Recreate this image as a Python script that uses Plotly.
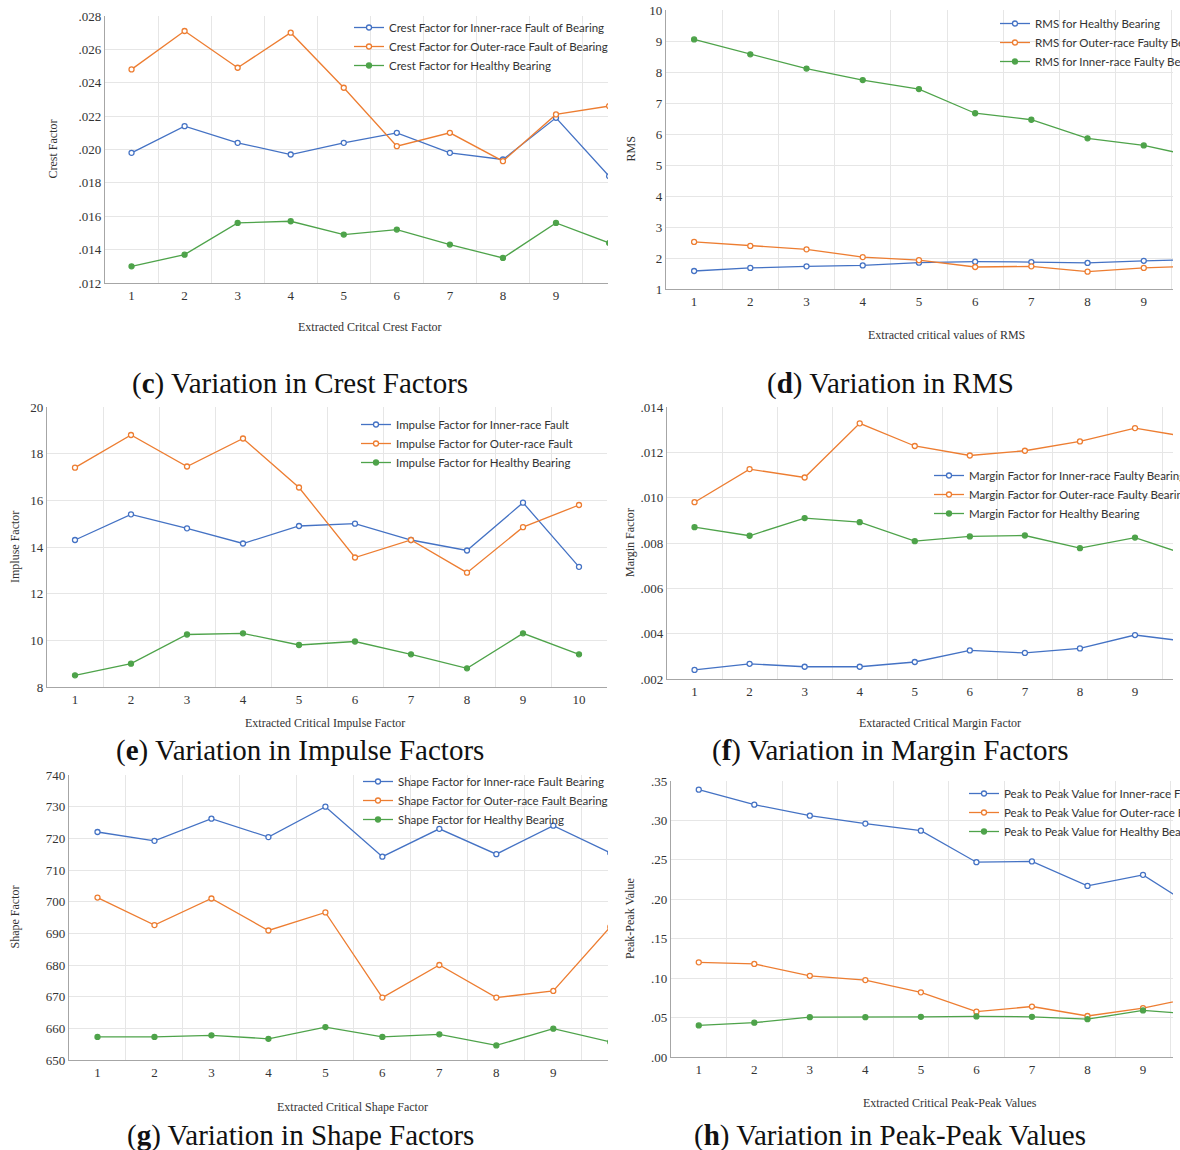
import plotly.graph_objects as go

# ---------------- data ----------------
x_idx = [1, 2, 3, 4, 5, 6, 7, 8, 9, 10]

crest_inner = [0.0198, 0.0214, 0.0204, 0.0197, 0.0204, 0.0210, 0.0198, 0.0194, 0.0219, 0.0184]
crest_outer = [0.0248, 0.0271, 0.0249, 0.0270, 0.0237, 0.0202, 0.0210, 0.0193, 0.0221, 0.0226]
crest_healthy = [0.0130, 0.0137, 0.0156, 0.0157, 0.0149, 0.0152, 0.0143, 0.0135, 0.0156, 0.0144]
crest_tickvals = [0.012, 0.014, 0.016, 0.018, 0.020, 0.022, 0.024, 0.026, 0.028]
crest_ticktext = [".012", ".014", ".016", ".018", ".020", ".022", ".024", ".026", ".028"]

rms_healthy = [1.58, 1.68, 1.73, 1.76, 1.85, 1.88, 1.87, 1.84, 1.91, 1.95]
rms_outer = [2.52, 2.39, 2.28, 2.03, 1.93, 1.71, 1.73, 1.56, 1.68, 1.75]
rms_inner = [9.05, 8.57, 8.11, 7.74, 7.45, 6.67, 6.46, 5.86, 5.63, 5.24]
rms_tickvals = [1, 2, 3, 4, 5, 6, 7, 8, 9, 10]
rms_ticktext = ["1", "2", "3", "4", "5", "6", "7", "8", "9", "10"]

impulse_inner = [14.3, 15.4, 14.8, 14.15, 14.9, 15.0, 14.3, 13.85, 15.9, 13.15]
impulse_outer = [17.4, 18.8, 17.45, 18.65, 16.55, 13.55, 14.3, 12.9, 14.85, 15.8]
impulse_healthy = [8.5, 9.0, 10.25, 10.3, 9.8, 9.95, 9.4, 8.8, 10.3, 9.4]
impulse_tickvals = [8, 10, 12, 14, 16, 18, 20]
impulse_ticktext = ["8", "10", "12", "14", "16", "18", "20"]

margin_inner = [0.00240, 0.00267, 0.00254, 0.00254, 0.00275, 0.00326, 0.00315, 0.00335, 0.00394, 0.00364]
margin_outer = [0.00980, 0.01126, 0.01089, 0.01328, 0.01228, 0.01186, 0.01207, 0.01248, 0.01307, 0.01266]
margin_healthy = [0.00870, 0.00832, 0.00910, 0.00892, 0.00808, 0.00829, 0.00833, 0.00777, 0.00824, 0.00743]
margin_tickvals = [0.002, 0.004, 0.006, 0.008, 0.010, 0.012, 0.014]
margin_ticktext = [".002", ".004", ".006", ".008", ".010", ".012", ".014"]

shape_inner = [722.0, 719.2, 726.2, 720.4, 730.0, 714.2, 723.0, 715.0, 724.0, 715.4]
shape_outer = [701.3, 692.6, 701.0, 690.9, 696.6, 669.7, 680.0, 669.7, 671.8, 692.0]
shape_healthy = [657.3, 657.3, 657.8, 656.7, 660.4, 657.3, 658.1, 654.6, 659.9, 655.7]
shape_tickvals = [650, 660, 670, 680, 690, 700, 710, 720, 730, 740]
shape_ticktext = ["650", "660", "670", "680", "690", "700", "710", "720", "730", "740"]

p2p_inner = [0.339, 0.320, 0.306, 0.296, 0.287, 0.247, 0.248, 0.217, 0.231, 0.186]
p2p_outer = [0.120, 0.118, 0.103, 0.0975, 0.082, 0.0575, 0.064, 0.052, 0.062, 0.0765]
p2p_healthy = [0.040, 0.0435, 0.0505, 0.0505, 0.051, 0.0515, 0.051, 0.048, 0.059, 0.054]
p2p_tickvals = [0.00, 0.05, 0.10, 0.15, 0.20, 0.25, 0.30, 0.35]
p2p_ticktext = [".00", ".05", ".10", ".15", ".20", ".25", ".30", ".35"]

# ---------------- styling / layout ----------------
W, H = 1180, 1150
BLUE, ORANGE, GREEN = "#4472C4", "#ED7D31", "#4EA34A"
GRID = "#e6e6e6"
AXIS = "#a6a6a6"
SERIF = "Liberation Serif"
SANS = "Lato"


def fx(px):
    return px / W


def fy(py):
    return 1 - py / H


panels = [
    dict(series=[("Crest Factor for Inner-race Fault of Bearing", crest_inner, BLUE),
                 ("Crest Factor for Outer-race Fault of Bearing", crest_outer, ORANGE),
                 ("Crest Factor for Healthy Bearing", crest_healthy, GREEN)],
         tv=crest_tickvals, tt=crest_ticktext,
         box=(105, 608, 16, 283), xmax=9.98,
         leg=(349, 13), ytitle="Crest Factor", ytx=52,
         xtitle="Extracted Critcal Crest Factor", xtt=(370, 327),
         cap="(<b>c</b>) Variation in Crest Factors", capxy=(300, 383)),
    dict(series=[("RMS for Healthy Bearing", rms_healthy, BLUE),
                 ("RMS for Outer-race Faulty Bearing", rms_outer, ORANGE),
                 ("RMS for Inner-race Faulty Bearing", rms_inner, GREEN)],
         tv=rms_tickvals, tt=rms_ticktext,
         box=(666, 1173, 10, 289), xmax=9.52,
         leg=(995, 9), ytitle="RMS", ytx=630,
         xtitle="Extracted critical values of RMS", xtt=(946, 335),
         cap="(<b>d</b>) Variation in RMS", capxy=(890, 383)),
    dict(series=[("Impulse Factor for Inner-race Fault", impulse_inner, BLUE),
                 ("Impulse Factor for Outer-race Fault", impulse_outer, ORANGE),
                 ("Impulse Factor for Healthy Bearing", impulse_healthy, GREEN)],
         tv=impulse_tickvals, tt=impulse_ticktext,
         box=(47, 607, 407, 687), xmax=10.5,
         leg=(356, 410), ytitle="Impluse Factor", ytx=15,
         xtitle="Extracted Critical Impulse Factor", xtt=(325, 723),
         cap="(<b>e</b>) Variation in Impulse Factors", capxy=(300, 750)),
    dict(series=[("Margin Factor for Inner-race Faulty Bearing", margin_inner, BLUE),
                 ("Margin Factor for Outer-race Faulty Bearing", margin_outer, ORANGE),
                 ("Margin Factor for Healthy Bearing", margin_healthy, GREEN)],
         tv=margin_tickvals, tt=margin_ticktext,
         box=(667, 1173, 407, 679), xmax=9.69,
         leg=(929, 461), ytitle="Margin Factor", ytx=630,
         xtitle="Extaracted Critical Margin Factor", xtt=(940, 723),
         cap="(<b>f</b>) Variation in Margin Factors", capxy=(890, 750)),
    dict(series=[("Shape Factor for Inner-race Fault Bearing", shape_inner, BLUE),
                 ("Shape Factor for Outer-race Fault Bearing", shape_outer, ORANGE),
                 ("Shape Factor for Healthy Bearing", shape_healthy, GREEN)],
         tv=shape_tickvals, tt=shape_ticktext,
         box=(69, 608, 775, 1060), xmax=9.96,
         leg=(358, 767), ytitle="Shape Factor", ytx=15,
         xtitle="Extracted Critical Shape Factor", xtt=(352, 1107),
         cap="(<b>g</b>) Variation in Shape Factors", capxy=(300, 1135)),
    dict(series=[("Peak to Peak Value for Inner-race Fault", p2p_inner, BLUE),
                 ("Peak to Peak Value for Outer-race Fault", p2p_outer, ORANGE),
                 ("Peak to Peak Value for Healthy Bearing", p2p_healthy, GREEN)],
         tv=p2p_tickvals, tt=p2p_ticktext,
         box=(671, 1173, 781, 1057), xmax=9.54,
         leg=(964, 779), ytitle="Peak-Peak Value", ytx=630,
         xtitle="Extracted Critical Peak-Peak Values", xtt=(950, 1103),
         cap="(<b>h</b>) Variation in Peak-Peak Values", capxy=(890, 1135)),
]

fig = go.Figure()
annotations = []
layout = dict(
    width=W, height=H,
    margin=dict(l=0, r=0, t=0, b=0, autoexpand=False),
    paper_bgcolor="white", plot_bgcolor="white",
    showlegend=True,
)

for i, p in enumerate(panels, start=1):
    sfx = "" if i == 1 else str(i)
    legname = "legend" + sfx
    for name, vals, col in p["series"]:
        filled = col == GREEN
        fig.add_trace(go.Scatter(
            x=x_idx, y=vals, name=name, mode="lines+markers",
            xaxis="x" + sfx, yaxis="y" + sfx, legend=legname,
            line=dict(color=col, width=1.3),
            marker=dict(symbol="circle", size=5,
                        color=col if filled else "white",
                        line=dict(color=col, width=1.3)),
        ))
    x0, x1, yt, yb = p["box"]
    layout["xaxis" + sfx] = dict(
        domain=[fx(x0), fx(x1)], anchor="y" + sfx,
        range=[0.5, p["xmax"]], tickmode="array", tickvals=x_idx,
        ticktext=[str(v) for v in x_idx],
        showgrid=False, zeroline=False, showline=True, linecolor=AXIS, linewidth=1.2,
        ticks="", tickfont=dict(family=SERIF, size=13, color="#333"),
        minor=dict(tickmode="array", tickvals=[v + 0.5 for v in [0] + x_idx],
                   showgrid=True, gridcolor=GRID, gridwidth=1, ticks=""),
        fixedrange=True,
    )
    layout["yaxis" + sfx] = dict(
        domain=[fy(yb), fy(yt)], anchor="x" + sfx,
        range=[p["tv"][0], p["tv"][-1]], tickmode="array",
        tickvals=p["tv"], ticktext=p["tt"],
        showgrid=True, gridcolor=GRID, gridwidth=1,
        zeroline=False, showline=True, linecolor=AXIS, linewidth=1.2,
        ticks="", tickfont=dict(family=SERIF, size=13, color="#333"),
        fixedrange=True,
    )
    lx, ly = p["leg"]
    layout[legname] = dict(
        x=fx(lx), y=fy(ly), xanchor="left", yanchor="top",
        xref="paper", yref="paper",
        bgcolor="rgba(0,0,0,0)", borderwidth=0,
        font=dict(family=SANS, size=11.5, color="#333"),
        tracegroupgap=0, itemwidth=30, traceorder="normal",
    )
    # axis titles
    annotations.append(dict(
        text=p["ytitle"], x=fx(p["ytx"]), y=fy((yt + yb) / 2), xref="paper", yref="paper",
        showarrow=False, textangle=-90, xanchor="center", yanchor="middle",
        font=dict(family=SERIF, size=12, color="#333")))
    tx, ty = p["xtt"]
    annotations.append(dict(
        text=p["xtitle"], x=fx(tx), y=fy(ty), xref="paper", yref="paper",
        showarrow=False, xanchor="center", yanchor="middle",
        font=dict(family=SERIF, size=12, color="#333")))
    cx, cy = p["capxy"]
    annotations.append(dict(
        text=p["cap"], x=fx(cx), y=fy(cy), xref="paper", yref="paper",
        showarrow=False, xanchor="center", yanchor="middle",
        font=dict(family=SERIF, size=29, color="#111")))

layout["annotations"] = annotations
fig.update_layout(**layout)
fig.write_html("out.html")
